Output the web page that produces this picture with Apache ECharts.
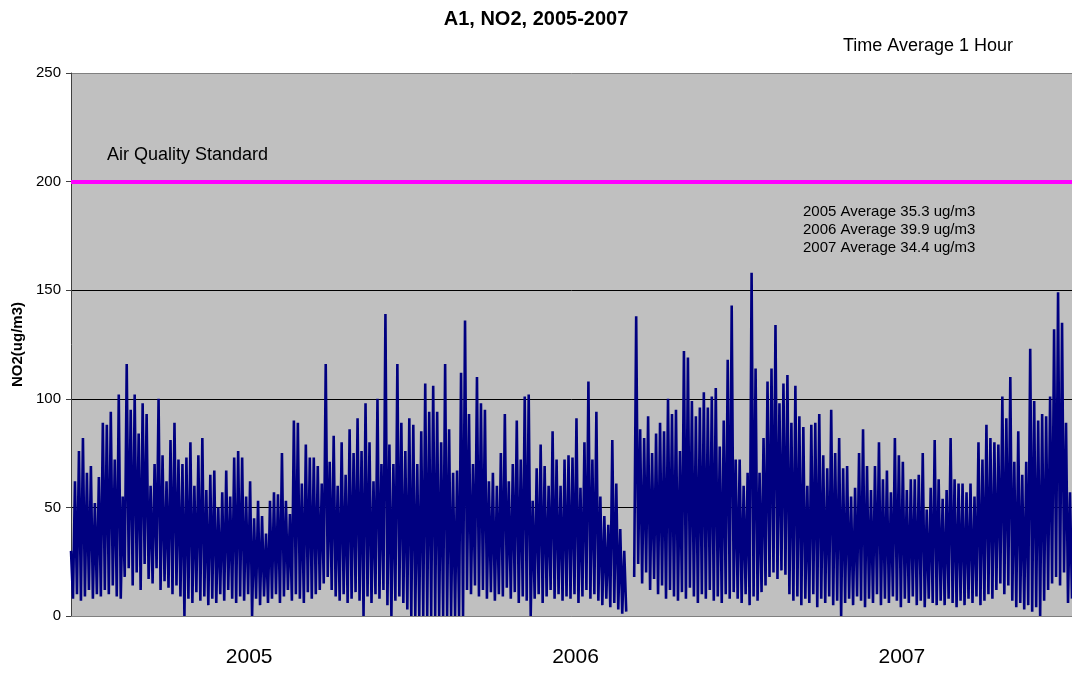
<!DOCTYPE html>
<html>
<head>
<meta charset="utf-8">
<title>A1, NO2, 2005-2007</title>
<script src="https://cdn.jsdelivr.net/npm/echarts@6/dist/echarts.min.js"></script>
<style>
    html, body { margin: 0; padding: 0; background: #fff; }
    #no2Chart { width: 1072px; height: 675px; }
</style>
</head>
<body>
<div id="no2Chart"></div>
<script>
let values2005 = [
    30, 8, 62, 10, 76, 7, 82, 9, 66, 12, 69, 8, 52, 10, 64, 9,
    89, 12, 88, 10, 94, 14, 72, 9, 102, 8, 55, 18, 116, 22, 95, 14,
    102, 20, 84, 12, 98, 24, 93, 17, 60, 15, 70, 22, 100, 12, 74, 16,
    62, 13, 81, 10, 89, 14, 72, 9, 70, 0, 73, 8, 80, 6, 60, 11,
    74, 7, 82, 9, 58, 5, 65, 8, 67, 6, 50, 10, 57, 7, 67, 12,
    55, 8, 73, 6, 76, 9, 73, 7, 55, 10, 62, 0, 45, 8, 53, 5,
    46, 9, 38, 6, 53, 8, 57, 10, 56, 6, 75, 9, 53, 12, 47, 7,
    90, 10, 89, 8, 61, 6, 79, 11, 73, 8, 73, 10, 69, 12, 61, 15,
    116, 18, 71, 12, 83, 9, 60, 7, 80, 10, 65, 6, 86, 8, 75, 11,
    91, 7, 76, 0, 98, 9, 80, 6, 62, 10, 100, 8, 70, 12, 139, 5,
    79, 0, 70, 7, 116, 9, 89, 6, 76, 3, 91
];
let values2006 = [
    0, 88, 0, 70, 0, 85, 0, 107, 0, 94, 0, 106, 0, 94, 0, 80,
    0, 116, 0, 86, 0, 66, 0, 67, 0, 112, 0, 136,
    12, 93, 10, 70, 14, 110, 9, 98, 12, 95, 8, 62, 11, 66, 7, 60,
    10, 75, 9, 93, 13, 62, 8, 70, 11, 90, 6, 72, 9, 101, 7, 102,
    0, 53,
    8, 68, 10, 79, 6, 69, 9, 60, 12, 85, 8, 72, 10, 60, 7, 72,
    9, 74, 8, 73, 10, 91, 6, 59, 9, 80, 12, 108, 8, 72, 10, 94,
    7, 55, 5, 46, 8, 42, 4, 81, 6, 61, 3, 40, 1, 30,
    2, null, null, null,
    18, 138, 24, 86, 15, 82, 20, 92, 12, 75, 17, 84, 10, 89, 14, 85,
    8, 100, 12, 93, 9, 95, 7, 76, 11, 122, 8, 119, 13, 99, 9, 92,
    6, 96, 10, 103, 8, 96, 12, 101, 7, 105, 9, 78, 6, 90, 10, 118,
    8, 143,
    11
];
let values2007 = [
    72, 8, 72, 6, 60, 10, 66, 5, 158, 9, 114, 7, 66, 11, 82, 14,
    108, 18, 114, 20, 134, 17, 98, 21, 107, 19, 111, 10, 89, 7, 106, 9,
    92, 5, 87, 8, 60, 6, 88, 10, 89, 4, 93, 8, 74, 6, 68, 9,
    95, 5, 75, 7, 82, 0, 68, 6, 69, 8, 55, 5, 59, 9, 75, 7,
    86, 4, 69, 8, 58, 6, 69, 10, 80, 5, 63, 8, 67, 6, 57, 9,
    82, 7, 74, 4, 71, 8, 58, 6, 63, 9, 63, 5, 65, 7, 75, 4,
    49, 8, 59, 6, 81, 5, 63, 7, 54, 5, 58, 8, 82, 6, 63, 4,
    61, 7, 61, 5, 57, 8, 61, 6, 55, 9, 80, 5, 72, 7, 88, 10,
    82, 8, 80, 12, 79, 15, 101, 10, 91, 14, 110, 7, 71, 4, 85, 6,
    65, 3, 71, 5, 123, 2, 99, 4, 90, 0, 93, 7, 92, 12, 101, 15,
    132, 18, 149, 14, 135, 20, 89, 6, 57, 8
];
let yearLabels = ['2005', '2006', '2007'];
let yTicks = [0, 50, 100, 150, 200, 250];
let airQualityStandard = 200;
let averageNotes = [
    '2005 Average 35.3 ug/m3',
    '2006 Average 39.9 ug/m3',
    '2007 Average 34.4 ug/m3'
];

let font = "'Liberation Sans', Arial, sans-serif";
let no2Values = values2005.concat(values2006, values2007);
let hourIndex = no2Values.map(function (v, i) { return i; });

let noteTexts = averageNotes.map(function (note, i) {
    return {
        type: 'text', left: 803, top: 204 + i * 18, silent: true,
        style: { text: note, font: '15px ' + font, fill: '#000' }
    };
});

let option = {
    animation: false,
    backgroundColor: '#fff',
    grid: [
        {
            left: 71, top: 73, width: (no2Values.length - 1) * 2, height: 543,
            show: true, backgroundColor: '#C0C0C0', borderWidth: 0
        },
        { left: 86, top: 73, width: 979, height: 543 }
    ],
    xAxis: [
        {
            type: 'category', gridIndex: 0, data: hourIndex, boundaryGap: false,
            axisLine: { lineStyle: { color: '#808080', width: 1 } },
            axisTick: { show: false },
            axisLabel: { show: false },
            splitLine: { show: false }
        },
        {
            type: 'category', gridIndex: 1, data: yearLabels, boundaryGap: true,
            axisLine: { show: false },
            axisTick: { show: false },
            axisLabel: { color: '#000', fontSize: 21, fontFamily: font, margin: 31 }
        }
    ],
    yAxis: [
        {
            type: 'value', gridIndex: 0, min: yTicks[0], max: yTicks[yTicks.length - 1], interval: 50,
            name: 'NO2(ug/m3)', nameLocation: 'middle', nameGap: 42, nameRotate: 90,
            nameTextStyle: { color: '#000', fontSize: 15, fontWeight: 'bold', fontFamily: font },
            axisLine: { show: true, lineStyle: { color: '#404040', width: 1 } },
            axisTick: { show: true, length: 5, lineStyle: { color: '#404040' } },
            axisLabel: { color: '#000', fontSize: 15, fontFamily: font, margin: 10 },
            splitLine: {
                show: true,
                lineStyle: { color: ['#808080', '#000', '#000', '#000', '#000', '#808080'], width: 1 }
            }
        },
        { type: 'value', gridIndex: 1, show: false }
    ],
    series: [
        {
            name: 'NO2',
            type: 'line',
            xAxisIndex: 0,
            yAxisIndex: 0,
            data: no2Values,
            showSymbol: false,
            symbol: 'none',
            connectNulls: false,
            lineStyle: { color: '#000080', width: 2.6, join: 'bevel' },
            markLine: {
                silent: true,
                symbol: ['none', 'none'],
                label: { show: false },
                lineStyle: { color: '#FF00FF', width: 4, type: 'solid' },
                data: [{ yAxis: airQualityStandard }]
            }
        }
    ],
    graphic: [
        {
            type: 'text', left: 'center', top: 9, silent: true,
            style: { text: 'A1, NO2, 2005-2007', font: 'bold 20px ' + font, fill: '#000', x: 5 }
        },
        {
            type: 'text', left: 843, top: 37, silent: true,
            style: { text: 'Time Average 1 Hour', font: '18px ' + font, fill: '#000' }
        },
        {
            type: 'text', left: 107, top: 146, silent: true,
            style: { text: 'Air Quality Standard', font: '18px ' + font, fill: '#000' }
        }
    ].concat(noteTexts)
};

let no2Chart = echarts.init(document.getElementById('no2Chart'));
no2Chart.setOption(option);
</script>
</body>
</html>
